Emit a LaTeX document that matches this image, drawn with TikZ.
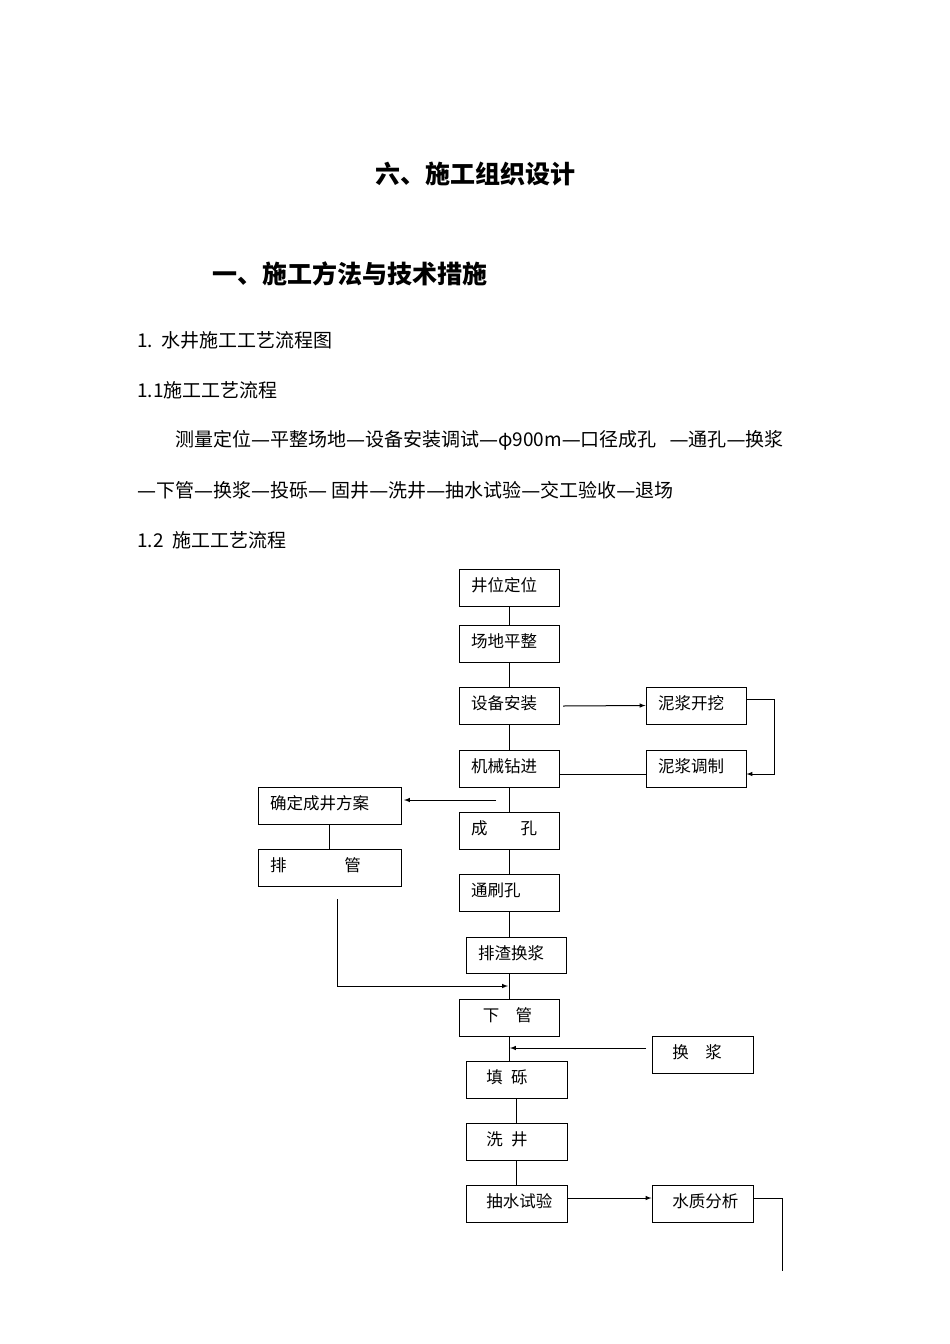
\documentclass[tikz,border=0pt]{standalone}
\usepackage{fontspec}
\setmainfont{DejaVu Sans}
\newfontfamily\cjk{Noto Sans CJK SC}
\newcommand{\dd}{{\fontspec{DejaVu Sans}—}}
\begin{document}
\begin{tikzpicture}[x=1pt,y=-1pt,
  bx/.style={draw,line width=1pt,inner sep=0pt},
  ln/.style={line width=1pt},
  ar/.style={line width=1pt,-latex},
  body/.style={anchor=west,inner sep=0pt,font=\fontsize{19}{21}\selectfont\cjk}]
\useasboundingbox (0,0) rectangle (950,1344);
\node[inner sep=0pt,font=\fontsize{25}{28}\selectfont\cjk\bfseries] (t1) at (475,174) {六、施工组织设计};
\node[inner sep=0pt,anchor=west,font=\fontsize{25}{28}\selectfont\cjk\bfseries] (t2) at (212,274) {一、施工方法与技术措施};
\node[body] (l1) at (137,340) {1.\ \ 水井施工工艺流程图};
\node[body] (l2) at (137,390) {1.1施工工艺流程};
\node[body] (l3) at (175,440) {测量定位\dd 平整场地\dd 设备安装调试\dd φ900m\dd 口径成孔\ \ \ \dd 通孔\dd 换浆};
\node[body] (l4) at (137,490) {\dd 下管\dd 换浆\dd 投砾\dd\ 固井\dd 洗井\dd 抽水试验\dd 交工验收\dd 退场};
\node[body] (l5) at (137,540) {1.2\ \ 施工工艺流程};
\newcommand{\mybox}[6]{%
 \draw[line width=1pt] (#2,#3) rectangle (#4,#5);
 \node[bx,draw=none,minimum width=#4pt-#2pt,minimum height=#5pt-#3pt] (#1) at ({(#2+#4)/2},{(#3+#5)/2}) {};
 \node[anchor=west,inner sep=0pt,font=\fontsize{16.5}{18}\selectfont\cjk] at (#2+12,#3+16) {#6};}
\mybox{b1}{459}{569}{559}{606}{井位定位}
\mybox{b2}{459}{625}{559}{662}{场地平整}
\mybox{b3}{459}{687}{559}{724}{设备安装}
\mybox{b4}{459}{750}{559}{787}{机械钻进}
\mybox{b5}{459}{812}{559}{849}{成\hspace{2em}孔}
\mybox{b6}{459}{874}{559}{911}{通刷孔}
\mybox{b7}{466}{937}{566}{973}{排渣换浆}
\mybox{b8}{459}{999}{559}{1036}{\hspace{0.7em}下\hspace{1em}管}
\mybox{b9}{466}{1061}{567}{1098}{\hspace{0.5em}填\hspace{0.5em}砾}
\mybox{b10}{466}{1123}{567}{1160}{\hspace{0.5em}洗\hspace{0.5em}井}
\mybox{b11}{466}{1185}{567}{1222}{\hspace{0.5em}抽水试验}
\mybox{r1}{646}{687}{746}{724}{泥浆开挖}
\mybox{r2}{646}{750}{746}{787}{泥浆调制}
\mybox{s1}{258}{787}{401}{824}{确定成井方案}
\mybox{s2}{258}{849}{401}{886}{排\hspace{3.5em}管}
\mybox{r3}{652}{1036}{753}{1073}{\hspace{0.5em}换\hspace{1em}浆}
\mybox{r4}{652}{1185}{753}{1222}{\hspace{0.5em}水质分析}
\draw[ln] (b1.south) -- (b2.north);
\draw[ln] (b2.south) -- (b3.north);
\draw[ln] (b3.south) -- (b4.north);
\draw[ln] (b4.south) -- (b5.north);
\draw[ln] (b5.south) -- (b6.north);
\draw[ln] (b6.south) -- (509,937);
\draw[ln] (509,973) -- (509,999);
\draw[ln] (509,1036) -- (509,1061);
\draw[ln] (b9.south) -- (b10.north);
\draw[ln] (b10.south) -- (b11.north);
\coordinate (a1) at (563,706);
\draw[ar] (a1) -- (r1.west);
\coordinate (c1) at (774,699); \coordinate (c2) at (774,774);
\draw[ar] (746,699) -- (c1) -- (c2) -- (r2.east |- c2);
\draw[ln] (r2.west |- c2) -- (b4.east |- c2);
\coordinate (a2) at (496,800);
\draw[ar] (a2) -- (404,800);
\draw[ln] (s1.south) -- (s2.north);
\coordinate (p1) at (337,899); \coordinate (p2) at (337,986); \coordinate (p3) at (508,986);
\draw[ar] (p1) -- (p2) -- (p3);
\coordinate (p4) at (510,1048);
\draw[ar] (646,1048) -- (p4);
\coordinate (a3) at (567,1198);
\draw[ar] (a3) -- (r4.west |- a3);
\coordinate (q1) at (782,1198); \coordinate (q2) at (782,1271);
\draw[ln] (r4.east |- q1) -- (q1) -- (q2);
\end{tikzpicture}
\end{document}
